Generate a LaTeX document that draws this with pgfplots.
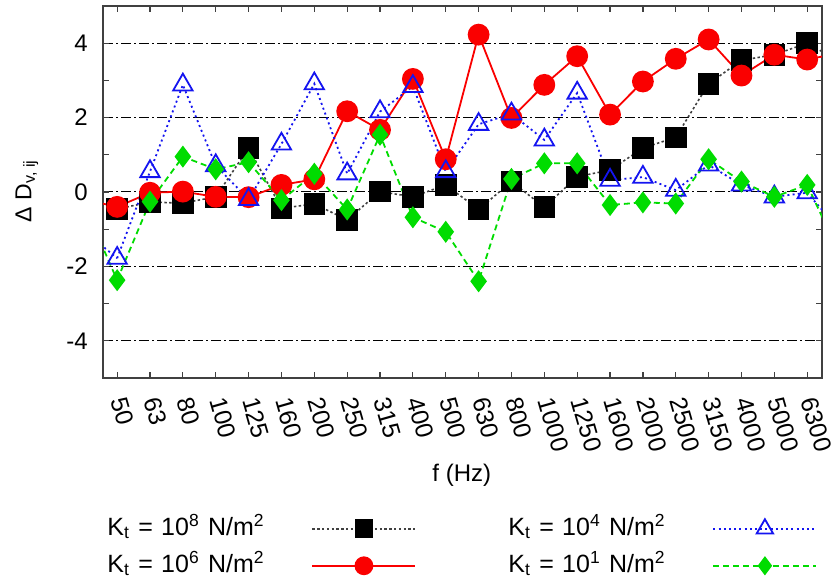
\documentclass[border=0pt]{standalone}
\usepackage{fontspec}
\setmainfont{Liberation Sans}
\usepackage{pgfplots}
\pgfplotsset{compat=1.18}
\definecolor{gnugreen}{RGB}{0,220,0}
\definecolor{gnublue}{RGB}{20,20,240}
\definecolor{gnured}{RGB}{250,0,0}
\definecolor{axgray}{RGB}{64,64,64}
\pgfplotsset{
  sA/.style={black!75, line width=0.8pt, dash pattern=on 1.2pt off 1.2pt, mark=square*, mark size=5pt, mark options={solid, fill=black, draw=black}},
  sB/.style={gnured, line width=0.9pt, solid, mark=*, mark size=5pt, mark options={solid, fill=gnured, draw=gnured}},
  sC/.style={gnublue, line width=0.9pt, dash pattern=on 1pt off 1.6pt, mark=triangle, mark size=5.6pt, mark options={solid, draw=gnublue, line width=0.9pt}},
  sD/.style={gnugreen, line width=0.9pt, dash pattern=on 3pt off 2pt, mark=diamond*, mark size=4.8pt, mark options={solid, fill=gnugreen, draw=gnugreen}},
}
\begin{document}
\begin{tikzpicture}
\begin{axis}[
  scale only axis, width=359.5pt, height=186pt,
  xmin=-0.43, xmax=21.45, ymin=-5, ymax=5,
  axis line style={axgray, line width=0.8pt},
  xtick={0,...,21},
  xticklabels={50,63,80,100,125,160,200,250,315,400,500,630,800,1000,1250,1600,2000,2500,3150,4000,5000,6300},
  ytick={-4,-2,0,2,4}, yticklabels={-4,-2,0,2,4},
  minor ytick={-3,-1,1,3},
  tick align=inside, major tick length=3pt, minor tick length=3pt,
  tick style={axgray, line width=0.6pt},
  ymajorgrids, grid style={black, line width=0.5pt, dash pattern=on 5pt off 1.5pt on 1pt off 1.5pt},
  xticklabel style={font=\fontsize{12.3}{14}\selectfont, yshift=-10pt, xshift=0.8pt, rotate=-74, anchor=west, inner sep=0pt},
  yticklabel style={font=\fontsize{12}{14}\selectfont, anchor=east, xshift=-7.5pt, inner sep=0pt},
  xlabel={f (Hz)}, xlabel style={at={(axis description cs:0.499,-0.262)}, anchor=center, font=\fontsize{12}{14}\selectfont},
  ylabel={Δ D\textsubscript{v, ij}}, ylabel style={at={(axis description cs:-0.106,0.503)}, anchor=center, font=\fontsize{11.5}{14}\selectfont},
  legend columns=2, transpose legend, legend plot pos=right, legend cell align=left,
  legend style={at={(axis description cs:0.0056,-0.368)}, anchor=north west, draw=none, fill=none, inner sep=0pt, column sep=0pt, row sep=5pt, font=\fontsize{12.5}{15}\selectfont, nodes={text width=80.5pt, text height=10pt, text depth=3.5pt, inner sep=0pt, align=left}},
  legend image code/.code={\path[draw=none, fill=none] (-22pt,0pt) -- (98pt,0pt); \draw[mark repeat=2,mark phase=2,#1, every mark/.append style={scale=0.85}] plot coordinates {(0pt,0pt) (25.75pt,0pt) (51.5pt,0pt)};},
]
% K_t = 10^8
\addplot[sA] coordinates {(0,-0.46)(1,-0.27)(2,-0.30)(3,-0.13)(4,1.18)(5,-0.44)(6,-0.32)(7,-0.75)(8,0.01)(9,-0.13)(10,0.19)(11,-0.47)(12,0.28)(13,-0.41)(14,0.41)(15,0.59)(16,1.18)(17,1.47)(18,2.91)(19,3.54)(20,3.69)(21,4.00)};
\addlegendentry{K\textsubscript{t} = 10\textsuperscript{8} N/m\textsuperscript{2}}
% K_t = 10^6
\addplot[sB] coordinates {(0,-0.40)(1,-0.02)(2,0.01)(3,-0.13)(4,-0.14)(5,0.19)(6,0.34)(7,2.17)(8,1.67)(9,3.04)(10,0.88)(11,4.23)(12,1.99)(13,2.88)(14,3.65)(15,2.08)(16,2.97)(17,3.58)(18,4.10)(19,3.13)(20,3.69)(21,3.56)};
\addlegendentry{K\textsubscript{t} = 10\textsuperscript{6} N/m\textsuperscript{2}}
% K_t = 10^4
\addplot[sC] coordinates {(0,-1.78)(1,0.55)(2,2.88)(3,0.71)(4,-0.20)(5,1.29)(6,2.91)(7,0.49)(8,2.16)(9,2.84)(10,0.55)(11,1.82)(12,2.10)(13,1.40)(14,2.66)(15,0.32)(16,0.40)(17,0.05)(18,0.73)(19,0.19)(20,-0.13)(21,-0.02)};
\addlegendentry{K\textsubscript{t} = 10\textsuperscript{4} N/m\textsuperscript{2}}
% K_t = 10^1
\addplot[sD] coordinates {(0,-2.37)(1,-0.26)(2,0.95)(3,0.61)(4,0.80)(5,-0.22)(6,0.49)(7,-0.47)(8,1.54)(9,-0.68)(10,-1.07)(11,-2.40)(12,0.35)(13,0.77)(14,0.77)(15,-0.35)(16,-0.28)(17,-0.31)(18,0.88)(19,0.28)(20,-0.13)(21,0.19)};
\addlegendentry{K\textsubscript{t} = 10\textsuperscript{1} N/m\textsuperscript{2}}
% continuation of the series beyond the plotted band (clipped)
\addplot[sA, no marks, forget plot] coordinates {(-1,-0.11)(0,-0.46)};
\addplot[sA, no marks, forget plot] coordinates {(21,4.00)(22,3.50)};
\addplot[sB, no marks, forget plot] coordinates {(-1,-0.20)(0,-0.40)};
\addplot[sB, no marks, forget plot] coordinates {(21,3.56)(22,3.74)};
\addplot[sC, no marks, forget plot] coordinates {(-1,-1.05)(0,-1.78)};
\addplot[sC, no marks, forget plot] coordinates {(21,-0.02)(22,-1.04)};
\addplot[sD, no marks, forget plot] coordinates {(-1,-0.35)(0,-2.37)};
\addplot[sD, no marks, forget plot] coordinates {(21,0.19)(22,-1.70)};
\coordinate (bbsw) at (axis description cs:-0.1433,-0.5618);
\coordinate (bbne) at (axis description cs:1.0181,1.0161);
\end{axis}
\pgfresetboundingbox
\path[use as bounding box] (bbsw) rectangle (bbne);
\end{tikzpicture}
\end{document}
